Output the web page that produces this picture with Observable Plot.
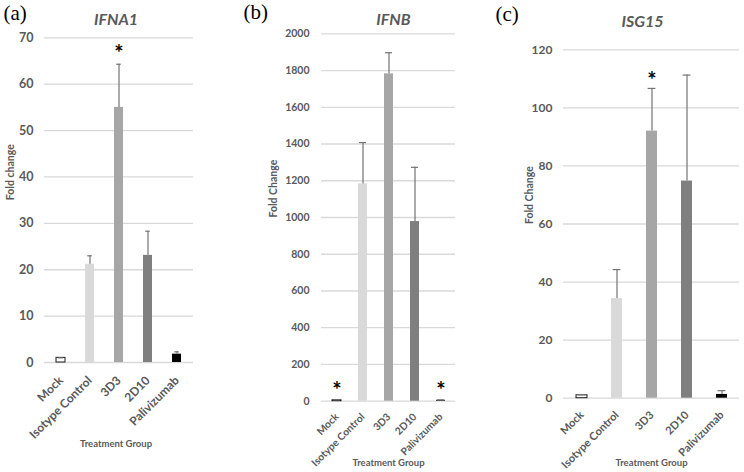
<!DOCTYPE html>
<html><head><meta charset="utf-8">
<script src="https://cdn.jsdelivr.net/npm/d3@7"></script>
<script src="https://cdn.jsdelivr.net/npm/@observablehq/plot@0.6"></script>
<style>
body{margin:0;background:#fff;}
#wrap{position:relative;width:744px;height:472px;overflow:hidden;background:#fff;}
</style></head><body><div id="wrap"></div>
<script>
// ---- data ----
const groups = ["Mock", "Isotype Control", "3D3", "2D10", "Palivizumab"];
const groupColors = ["#ffffff", "#d9d9d9", "#a6a6a6", "#7f7f7f", "#000000"];

const ifna1Mean = [1.0, 21.2, 55.0, 23.1, 1.8];
const ifna1Err  = [0, 1.8, 9.3, 5.2, 0.5];
const ifna1Sig  = [false, false, true, false, false];
const ifna1Ticks = [0, 10, 20, 30, 40, 50, 60, 70];

const ifnbMean = [5, 1183, 1782, 978, 5];
const ifnbErr  = [2, 225, 115, 295, 2];
const ifnbSig  = [true, false, false, false, true];
const ifnbTicks = [0, 200, 400, 600, 800, 1000, 1200, 1400, 1600, 1800, 2000];

const isg15Mean = [1.0, 34.3, 92.0, 74.8, 1.3];
const isg15Err  = [0.2, 10.0, 14.7, 36.5, 1.3];
const isg15Sig  = [false, false, true, false, false];
const isg15Ticks = [0, 20, 40, 60, 80, 100, 120];

const panelLabels = ["(a)", "(b)", "(c)"];
const geneTitles = ["IFNA1", "IFNB", "ISG15"];
const yLabels = ["Fold change", "Fold Change", "Fold Change"];
const xLabel = "Treatment Group";

// ---- layout ----
const panels = [
  {mean: ifna1Mean, err: ifna1Err, sig: ifna1Sig, ticks: ifna1Ticks,
   left: 0, width: 240, mL: 44, mR: 47, mT: 37.3, mB: 110,
   yFont: 12.5, xFont: 12, yPad: 11, xPad: 16, pad: 0.68,
   tDx: -3, tDy: -17.8, pDx: -41, pDy: -24.5, yLDx: -34, xLDx: -3, xLDy: 81,
   starDy: -10, capInset: 2.2},
  {mean: ifnbMean, err: ifnbErr, sig: ifnbSig, ticks: ifnbTicks,
   left: 240, width: 250, mL: 81, mR: 35, mT: 33.3, mB: 71.3,
   yFont: 10.5, xFont: 10.2, yPad: 12, xPad: 14, pad: 0.66,
   tDx: 5, tDy: -14.3, pDx: -78, pDy: -22, yLDx: -48, xLDx: 0, xLDy: 62,
   starDy: -8.6, capInset: 1},
  {mean: isg15Mean, err: isg15Err, sig: isg15Sig, ticks: isg15Ticks,
   left: 490, width: 254, mL: 73, mR: 5, mT: 49.3, mB: 74.3,
   yFont: 12, xFont: 11, yPad: 11, xPad: 15, pad: 0.69,
   tDx: -9, tDy: -28.3, pDx: -68, pDy: -36, yLDx: -34, xLDx: 0, xLDy: 65,
   starDy: -7.5, capInset: 1.6}
];

const errColor = "#737373";
const textColor = "#595959";
const wrap = document.getElementById("wrap");

panels.forEach((p, i) => {
  const rows = groups.map((g, j) => ({group: g, mean: p.mean[j], upper: p.mean[j] + p.err[j], sig: p.sig[j]}));
  const chart = Plot.plot({
    width: p.width, height: 472,
    marginLeft: p.mL, marginRight: p.mR, marginTop: p.mT, marginBottom: p.mB,
    style: {position: "absolute", left: p.left + "px", top: "0px", fontFamily: "Lato", fontWeight: "bold",
            color: textColor, background: "transparent", overflow: "visible"},
    x: {domain: groups, paddingInner: p.pad, paddingOuter: p.pad / 2},
    y: {domain: [p.ticks[0], p.ticks[p.ticks.length - 1]]},
    color: {type: "ordinal", domain: groups, range: groupColors},
    marks: [
      Plot.gridY({ticks: p.ticks, stroke: "#d9d9d9", strokeOpacity: 1, strokeWidth: 1.3}),
      Plot.axisY({ticks: p.ticks, tickFormat: d => String(d), tickSize: 0, tickPadding: p.yPad, fontSize: p.yFont, label: null}),
      Plot.axisX({tickRotate: -45, tickSize: 0, tickPadding: p.xPad, fontSize: p.xFont, label: null}),
      Plot.barY(rows, {x: "group", y: "mean", fill: "group"}),
      Plot.barY(rows.filter(d => d.group === "Mock"), {x: "group", y: "mean", fill: "white", stroke: "#1a1a1a", strokeWidth: 1}),
      Plot.ruleX(rows, {x: "group", y1: "mean", y2: "upper", stroke: errColor, strokeWidth: 1.2}),
      Plot.tickY(rows, {x: "group", y: "upper", stroke: errColor, strokeWidth: 1.2, insetLeft: p.capInset, insetRight: p.capInset}),
      Plot.text(rows.filter(d => d.sig), {x: "group", y: "upper", text: () => "*", fontSize: 22, fill: "#000", dy: p.starDy}),
      Plot.text([geneTitles[i]], {text: d => d, frameAnchor: "top", lineAnchor: "middle", dx: p.tDx, dy: p.tDy, fontSize: 16, fontStyle: "italic"}),
      Plot.text([panelLabels[i]], {text: d => d, frameAnchor: "top-left", lineAnchor: "middle", textAnchor: "start", dx: p.pDx, dy: p.pDy,
                                   fontSize: 21, fontFamily: "Liberation Serif", fontWeight: "normal", fill: "#000"}),
      Plot.text([yLabels[i]], {text: d => d, frameAnchor: "left", lineAnchor: "middle", rotate: -90, dx: p.yLDx, fontSize: 10.5}),
      Plot.text([xLabel], {text: d => d, frameAnchor: "bottom", lineAnchor: "middle", dx: p.xLDx, dy: p.xLDy, fontSize: 9.5})
    ]
  });
  wrap.appendChild(chart);
});
</script>
</body></html>
